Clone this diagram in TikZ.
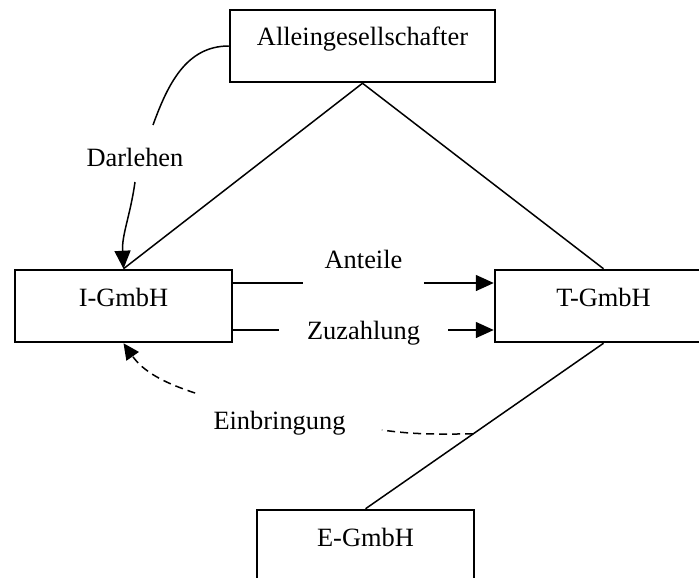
\documentclass[tikz,border=0pt]{standalone}
\usepackage{fontspec}
\setmainfont{Liberation Serif}
\usetikzlibrary{arrows.meta,calc}
\tikzset{
  box/.style={draw, line width=1.25pt, inner sep=0pt, minimum height=36pt,
    text height=18pt, text depth=18pt, font=\fontsize{13.2}{16}\selectfont},
  lbl/.style={inner sep=0pt, anchor=base, font=\fontsize{13.2}{16}\selectfont},
  conn/.style={line width=0.75pt},
  tip/.style={-{Triangle[length=9pt,width=8pt]}},
  dtip/.style={-{Triangle[length=8pt,width=7.5pt]}},
  dsh/.style={dash pattern=on 4pt off 2.5pt}
}
\begin{document}
\begin{tikzpicture}[x=0.5pt,y=-0.5pt]
\useasboundingbox (0,0) rectangle (699,577);
\clip (0,0) rectangle (699,577);
\fill[white] (0,0) rectangle (699,577);
% boxes
\node[box, minimum width=132.5pt] (alle) at (362.5,46) {Alleingesellschafter};
\node[box, minimum width=108.5pt] (I) at (123.5,306) {I-GmbH};
\node[box, minimum width=108.5pt] (T) at (603.5,306) {T-GmbH};
\node[box, minimum width=108.5pt] (E) at (365.5,546) {E-GmbH};
% labels
\node[lbl] (darl) at (135,167) {Darlehen};
\node[lbl, inner xsep=10.5pt] (ant) at (363.5,268) {Anteile};
\node[lbl, inner xsep=14pt] (zuz) at (363.5,339) {Zuzahlung};
\node[lbl] (einb) at (279.5,429) {Einbringung};
\coordinate (ay) at (0,283);
\coordinate (zy) at (0,330);
\coordinate (ein) at ($(T.south)!0.548!(E.north)$);
% structure lines
\draw[conn] (alle.south) -- (I.north);
\draw[conn] (alle.south) -- (T.north);
\draw[conn] (T.south) -- (E.north);
% Darlehen
\draw[conn] (alle.west) to[out=180,in=70] ($(darl.base)+(18,-42)$);
\draw[conn,tip] ($(darl.base)+(0,15)$) to[out=-98,in=93] (I.north);
% Anteile
\draw[conn] (I.east |- ay) -- (ant.west |- ay);
\draw[conn,tip] (ant.east |- ay) -- (T.west |- ay);
% Zuzahlung
\draw[conn] (I.east |- zy) -- (zuz.west |- zy);
\draw[conn,tip] (zuz.east |- zy) -- (T.west |- zy);
% Einbringung
\draw[conn,dsh] (ein) to[out=180,in=-8] ($(einb.base east)+(36,1)$);
\draw[conn,dsh,dtip] ($(einb.base west)+(-18,-36)$) to[out=162,in=-55] (I.south);
\end{tikzpicture}
\end{document}
